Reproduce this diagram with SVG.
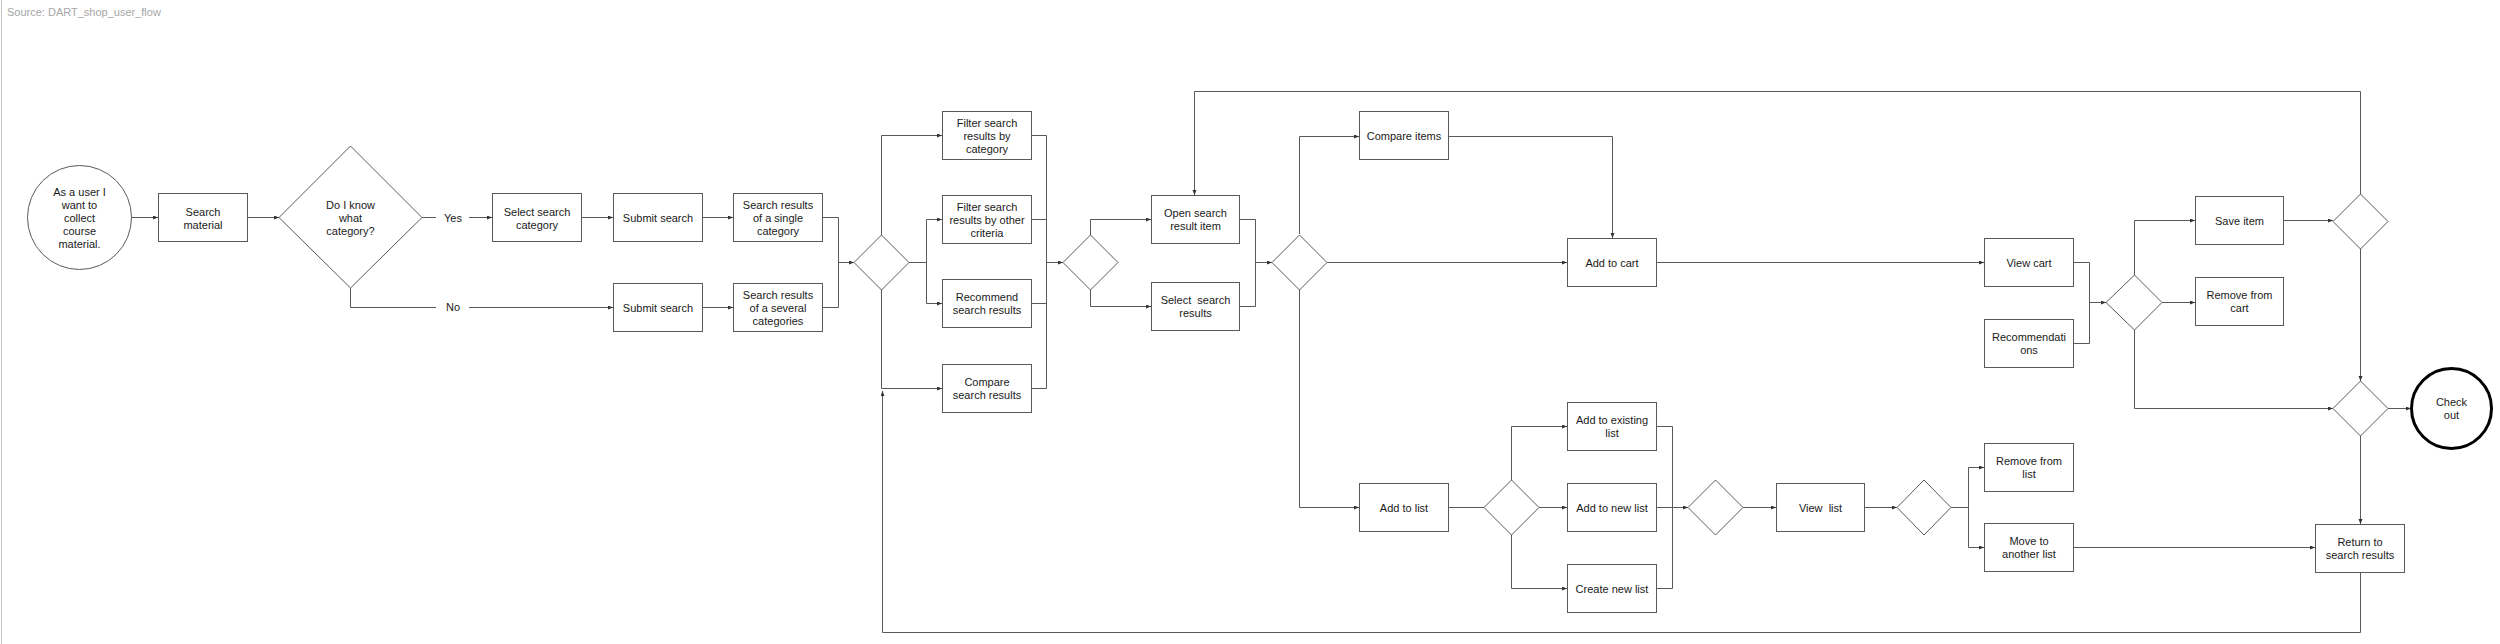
<svg xmlns="http://www.w3.org/2000/svg" width="2500" height="644" viewBox="0 0 2500 644">
<style>
.n rect,.n polygon,.n circle{fill:#fff;stroke:#595959;stroke-width:1}
.t{font-family:"Liberation Sans",Arial,sans-serif;font-size:11px;fill:#1a1a1a;text-anchor:middle}
.c path{fill:none;stroke:#595959;stroke-width:1}
.src{font-family:"Liberation Sans",Arial,sans-serif;font-size:11px;fill:#a6a6a6}
</style>
<defs>
<marker id="a" markerUnits="userSpaceOnUse" markerWidth="6" markerHeight="6" refX="5" refY="2" orient="auto">
<path d="M0,0 L5,2 L0,4 z" fill="#333"/>
</marker>
</defs>
<rect width="2500" height="644" fill="#fff"/>
<line x1="1.5" y1="0" x2="1.5" y2="644" stroke="#c8c8c8" stroke-width="1"/>
<text class="src" x="7" y="16">Source: DART_shop_user_flow</text>

<g class="c" id="connectors">
<path d="M131,217.5 H158" marker-end="url(#a)"/>
<path d="M247,217.5 H279" marker-end="url(#a)"/>
<path d="M422,217.5 H436"/>
<path d="M469,217.5 H492" marker-end="url(#a)"/>
<path d="M350.5,288 V307.5 H436"/>
<path d="M469,307.5 H613" marker-end="url(#a)"/>
<path d="M581,217.5 H613" marker-end="url(#a)"/>
<path d="M702,217.5 H733" marker-end="url(#a)"/>
<path d="M702,307.5 H733" marker-end="url(#a)"/>
<path d="M822,217.5 H838.5 V307.5 H822"/>
<path d="M838.5,262.5 H854" marker-end="url(#a)"/>
<path d="M881.5,235 V135.5 H942" marker-end="url(#a)"/>
<path d="M909,262.5 H926.5 V219.5 H942" marker-end="url(#a)"/>
<path d="M926.5,262.5 V303.5 H942" marker-end="url(#a)"/>
<path d="M881.5,289 V388.5 H942" marker-end="url(#a)"/>
<path d="M1031,135.5 H1046.5 V388.5 H1031"/>
<path d="M1031,219.5 H1046.5"/>
<path d="M1031,303.5 H1046.5"/>
<path d="M1046.5,262.5 H1063" marker-end="url(#a)"/>
<path d="M1090.5,235 V219.5 H1151" marker-end="url(#a)"/>
<path d="M1090.5,289 V306.5 H1151" marker-end="url(#a)"/>
<path d="M1239,219.5 H1255.5 V306.5 H1239"/>
<path d="M1255.5,262.5 H1272" marker-end="url(#a)"/>
<path d="M1299.5,234 V136.5 H1359" marker-end="url(#a)"/>
<path d="M1448,136.5 H1612.5 V238" marker-end="url(#a)"/>
<path d="M1327,262.5 H1567" marker-end="url(#a)"/>
<path d="M1656,262.5 H1984" marker-end="url(#a)"/>
<path d="M1299.5,289 V507.5 H1359" marker-end="url(#a)"/>
<path d="M1448,507.5 H1484"/>
<path d="M1511.5,480 V426.5 H1567" marker-end="url(#a)"/>
<path d="M1539,507.5 H1567" marker-end="url(#a)"/>
<path d="M1511.5,535 V588.5 H1567" marker-end="url(#a)"/>
<path d="M1656,426.5 H1672.5 V588.5 H1656"/>
<path d="M1656,507.5 H1688" marker-end="url(#a)"/>
<path d="M1743,507.5 H1776" marker-end="url(#a)"/>
<path d="M1864,507.5 H1897" marker-end="url(#a)"/>
<path d="M1951,507.5 H1968.5 V467.5 H1984" marker-end="url(#a)"/>
<path d="M1968.5,507.5 V547.5 H1984" marker-end="url(#a)"/>
<path d="M2073,547.5 H2315" marker-end="url(#a)"/>
<path d="M2073,262.5 H2089.5 V343.5 H2073"/>
<path d="M2089.5,302.5 H2106" marker-end="url(#a)"/>
<path d="M2134.5,275 V220.5 H2195" marker-end="url(#a)"/>
<path d="M2162,302.5 H2195" marker-end="url(#a)"/>
<path d="M2134.5,329 V408.5 H2333" marker-end="url(#a)"/>
<path d="M2282,220.5 H2333" marker-end="url(#a)"/>
<path d="M2360.5,194 V91.5 H1194.5 V195" marker-end="url(#a)"/>
<path d="M2360.5,249 V381" marker-end="url(#a)"/>
<path d="M2388,408.5 H2411" marker-end="url(#a)"/>
<path d="M2360.5,435 V524" marker-end="url(#a)"/>
<path d="M2360.5,572 V632.5 H882.5 V391" marker-end="url(#a)"/>
</g>

<g class="n" id="start"><circle cx="79.5" cy="217.5" r="52"/>
<text class="t" x="79.5" y="196">As a user I</text><text class="t" x="79.5" y="209">want to</text><text class="t" x="79.5" y="222">collect</text><text class="t" x="79.5" y="235">course</text><text class="t" x="79.5" y="248">material.</text></g>
<g class="n" id="search-material"><rect x="158.5" y="193.5" width="89" height="48"/>
<text class="t" x="203" y="215.5">Search</text><text class="t" x="203" y="228.5">material</text></g>
<g class="n" id="know-category"><polygon points="279,217.5 350.5,146 422,217.5 350.5,288"/>
<text class="t" x="350.5" y="209">Do I know</text><text class="t" x="350.5" y="222">what</text><text class="t" x="350.5" y="235">category?</text></g>
<g id="label-yes"><text class="t" x="453" y="222">Yes</text></g>
<g id="label-no"><text class="t" x="453" y="311">No</text></g>
<g class="n" id="select-category"><rect x="492.5" y="193.5" width="89" height="48"/>
<text class="t" x="537" y="215.5">Select search</text><text class="t" x="537" y="228.5">category</text></g>
<g class="n" id="submit-1"><rect x="613.5" y="193.5" width="89" height="48"/>
<text class="t" x="658" y="221.5">Submit search</text></g>
<g class="n" id="results-single"><rect x="733.5" y="193.5" width="89" height="48"/>
<text class="t" x="778" y="209">Search results</text><text class="t" x="778" y="222">of a single</text><text class="t" x="778" y="235">category</text></g>
<g class="n" id="submit-2"><rect x="613.5" y="283.5" width="89" height="48"/>
<text class="t" x="658" y="311.5">Submit search</text></g>
<g class="n" id="results-several"><rect x="733.5" y="283.5" width="89" height="48"/>
<text class="t" x="778" y="298.5">Search results</text><text class="t" x="778" y="311.5">of a several</text><text class="t" x="778" y="324.5">categories</text></g>
<g class="n" id="d1"><polygon points="854,262.5 881.5,235 909,262.5 881.5,290"/></g>
<g class="n" id="filter-category"><rect x="942.5" y="111.5" width="89" height="48"/>
<text class="t" x="987" y="127">Filter search</text><text class="t" x="987" y="140">results by</text><text class="t" x="987" y="153">category</text></g>
<g class="n" id="filter-other"><rect x="942.5" y="195.5" width="89" height="48"/>
<text class="t" x="987" y="211">Filter search</text><text class="t" x="987" y="224">results by other</text><text class="t" x="987" y="237">criteria</text></g>
<g class="n" id="recommend"><rect x="942.5" y="279.5" width="89" height="48"/>
<text class="t" x="987" y="301">Recommend</text><text class="t" x="987" y="314">search results</text></g>
<g class="n" id="compare-results"><rect x="942.5" y="364.5" width="89" height="48"/>
<text class="t" x="987" y="386">Compare</text><text class="t" x="987" y="399">search results</text></g>
<g class="n" id="d2"><polygon points="1063,262.5 1090.5,235 1118,262.5 1090.5,290"/></g>
<g class="n" id="open-item"><rect x="1151.5" y="195.5" width="88" height="48"/>
<text class="t" x="1195.5" y="217">Open search</text><text class="t" x="1195.5" y="230">result item</text></g>
<g class="n" id="select-results"><rect x="1151.5" y="282.5" width="88" height="48"/>
<text class="t" x="1195.5" y="304" xml:space="preserve">Select  search</text><text class="t" x="1195.5" y="317">results</text></g>
<g class="n" id="d3"><polygon points="1272,262.5 1299.5,235 1327,262.5 1299.5,290"/></g>
<g class="n" id="compare-items"><rect x="1359.5" y="111.5" width="89" height="48"/>
<text class="t" x="1404" y="139.5">Compare items</text></g>
<g class="n" id="add-cart"><rect x="1567.5" y="238.5" width="89" height="48"/>
<text class="t" x="1612" y="266.5">Add to cart</text></g>
<g class="n" id="add-list"><rect x="1359.5" y="483.5" width="89" height="48"/>
<text class="t" x="1404" y="511.5">Add to list</text></g>
<g class="n" id="d4"><polygon points="1484,507.5 1511.5,480 1539,507.5 1511.5,535"/></g>
<g class="n" id="add-existing"><rect x="1567.5" y="402.5" width="89" height="48"/>
<text class="t" x="1612" y="424">Add to existing</text><text class="t" x="1612" y="437">list</text></g>
<g class="n" id="add-new"><rect x="1567.5" y="483.5" width="89" height="48"/>
<text class="t" x="1612" y="511.5">Add to new list</text></g>
<g class="n" id="create-new"><rect x="1567.5" y="564.5" width="89" height="48"/>
<text class="t" x="1612" y="592.5">Create new list</text></g>
<g class="n" id="d5"><polygon points="1688,507.5 1715.5,480 1743,507.5 1715.5,535"/></g>
<g class="n" id="view-list"><rect x="1776.5" y="483.5" width="88" height="48"/>
<text class="t" x="1820.5" y="511.5" xml:space="preserve">View  list</text></g>
<g class="n" id="d6"><polygon points="1897,507.5 1924,480 1951,507.5 1924,535"/></g>
<g class="n" id="remove-list"><rect x="1984.5" y="443.5" width="89" height="48"/>
<text class="t" x="2029" y="465">Remove from</text><text class="t" x="2029" y="478">list</text></g>
<g class="n" id="move-list"><rect x="1984.5" y="523.5" width="89" height="48"/>
<text class="t" x="2029" y="545">Move to</text><text class="t" x="2029" y="558">another list</text></g>
<g class="n" id="view-cart"><rect x="1984.5" y="238.5" width="89" height="48"/>
<text class="t" x="2029" y="266.5">View cart</text></g>
<g class="n" id="recommendations"><rect x="1984.5" y="319.5" width="89" height="48"/>
<text class="t" x="2029" y="341">Recommendati</text><text class="t" x="2029" y="354">ons</text></g>
<g class="n" id="d7"><polygon points="2106,302.5 2134.5,275 2162,302.5 2134.5,330"/></g>
<g class="n" id="save-item"><rect x="2195.5" y="196.5" width="88" height="48"/>
<text class="t" x="2239.5" y="224.5">Save item</text></g>
<g class="n" id="remove-cart"><rect x="2195.5" y="277.5" width="88" height="48"/>
<text class="t" x="2239.5" y="299">Remove from</text><text class="t" x="2239.5" y="312">cart</text></g>
<g class="n" id="d8"><polygon points="2333,221.5 2360.5,194 2388,221.5 2360.5,249"/></g>
<g class="n" id="d9"><polygon points="2333,408.5 2360.5,381 2388,408.5 2360.5,436"/></g>
<g class="n" id="checkout"><circle cx="2451.5" cy="408.5" r="40" style="stroke:#000;stroke-width:3"/>
<text class="t" x="2451.5" y="406">Check</text><text class="t" x="2451.5" y="419">out</text></g>
<g class="n" id="return-results"><rect x="2315.5" y="524.5" width="89" height="48"/>
<text class="t" x="2360" y="546">Return to</text><text class="t" x="2360" y="559">search results</text></g>
</svg>
